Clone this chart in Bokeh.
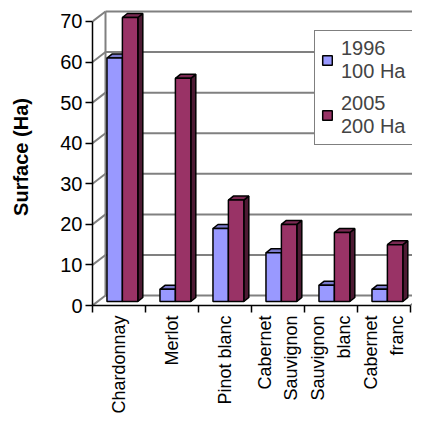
import math
from bokeh.plotting import figure
from bokeh.models import Range1d, FixedTicker, Legend, LegendItem, LinearAxis
from bokeh.embed import file_html
from bokeh.resources import INLINE

categories = ["Chardonnay", "Merlot", "Pinot blanc", "Cabernet\nSauvignon", "Sauvignon\nblanc", "Cabernet\nfranc"]
values_1996 = [60, 3, 18, 12, 4, 3]
values_2005 = [70, 55, 25, 19, 17, 14]
series_labels = ["1996\n100 Ha", "2005\n200 Ha"]
y_ticks = [0, 10, 20, 30, 40, 50, 60, 70]
y_title = "Surface (Ha)"

FONT = "Liberation Sans"
FS = "20px"
FS_CAT = "18px"
PX_X = 53.0          # px per category
PX_Y = 285.0 / 70.0  # px per unit
W, H = 412, 416
ML, MT, MB = 92, 8, 110
fw, fh = W - ML, H - MT - MB

# 3D offsets (data units)
wall_dx, wall_dy = 13 / PX_X, 10 / PX_Y
bar_base = 4 / PX_Y
bar_dx, bar_dy = 5 / PX_X, 4 / PX_Y

p = figure(width=W, height=H, output_backend="svg", toolbar_location=None,
           x_range=Range1d(0, fw / PX_X), y_range=Range1d(0, fh / PX_Y),
           min_border_left=ML, min_border_right=0, min_border_top=MT, min_border_bottom=MB,
           x_axis_type=None, y_axis_type=None)
p.outline_line_color = None
p.background_fill_color = "white"
p.border_fill_color = "white"
p.xgrid.visible = False
p.ygrid.visible = False

n = len(categories)
xmax = fw / PX_X + 1

# back wall grid and diagonals
gy = [v + wall_dy for v in y_ticks]
p.segment(x0=[wall_dx] * len(y_ticks), y0=gy, x1=[xmax] * len(y_ticks), y1=gy,
          line_color="#808080", line_width=2)
p.segment(x0=[0] * len(y_ticks), y0=y_ticks, x1=[wall_dx] * len(y_ticks), y1=gy,
          line_color="#808080", line_width=2)
p.segment(x0=[wall_dx], y0=[wall_dy], x1=[wall_dx], y1=[max(y_ticks) + wall_dy],
          line_color="#808080", line_width=2)
p.segment(x0=[n], y0=[0], x1=[n + wall_dx], y1=[wall_dy], line_color="#808080", line_width=2)


def bar_series(vals, off_l, off_r, front, top_c, side_c):
    lefts = [i + off_l for i in range(n)]
    rights = [i + off_r for i in range(n)]
    bottoms = [bar_base] * n
    tops = [bar_base + v for v in vals]
    side_xs = [[r, r + bar_dx, r + bar_dx, r] for r in rights]
    side_ys = [[b, b + bar_dy, t + bar_dy, t] for b, t in zip(bottoms, tops)]
    top_xs = [[l, l + bar_dx, r + bar_dx, r] for l, r in zip(lefts, rights)]
    top_ys = [[t, t + bar_dy, t + bar_dy, t] for t in tops]
    p.patches(side_xs, side_ys, fill_color=side_c, line_color="black", line_width=1.5)
    p.patches(top_xs, top_ys, fill_color=top_c, line_color="black", line_width=1.5)
    return p.quad(left=lefts, right=rights, bottom=bottoms, top=tops,
                  fill_color=front, line_color="black", line_width=1.5)


r1 = bar_series(values_1996, 0.273, 0.564, "#9999FF", "#7a7acc", "#4d4d80")
r2 = bar_series(values_2005, 0.564, 0.855, "#993366", "#7a2952", "#4d1a33")

yax = LinearAxis(ticker=FixedTicker(ticks=y_ticks), axis_label=y_title)
yax.axis_label_text_font = FONT
yax.axis_label_text_font_size = FS
yax.axis_label_text_font_style = "bold"
yax.axis_label_text_color = "black"
yax.axis_label_standoff = 25
yax.major_label_text_font = FONT
yax.major_label_text_font_size = FS
yax.major_label_text_color = "black"
yax.major_tick_out = 7
yax.major_tick_in = 0
yax.minor_tick_out = 0
yax.minor_tick_in = 0
yax.major_label_standoff = 3
yax.axis_line_color = "black"
yax.axis_line_width = 1.5
yax.major_tick_line_width = 1.5
yax.bounds = (0, max(y_ticks))
p.add_layout(yax, "left")

centers = [i + 0.5 for i in range(n)]
xax = LinearAxis(ticker=FixedTicker(ticks=centers, minor_ticks=list(range(n + 1))))
xax.major_label_overrides = {c: lab for c, lab in zip(centers, categories)}
xax.major_label_orientation = math.pi / 2
xax.major_label_text_font = FONT
xax.major_label_text_font_size = FS_CAT
xax.major_label_text_color = "black"
xax.major_label_text_line_height = 1.3
xax.major_tick_out = 0
xax.major_tick_in = 0
xax.minor_tick_out = 7
xax.minor_tick_in = 0
xax.minor_tick_line_color = "black"
xax.minor_tick_line_width = 1.5
xax.major_label_standoff = 3
xax.axis_line_color = "black"
xax.axis_line_width = 1.5
xax.bounds = (0, n)
p.add_layout(xax, "below")

legend = Legend(items=[LegendItem(label=series_labels[0], renderers=[r1]),
                       LegendItem(label=series_labels[1], renderers=[r2])],
                location=(222, 160))
legend.label_text_font = FONT
legend.label_text_font_size = FS
legend.label_text_line_height = 1.1
legend.glyph_width = 12
legend.glyph_height = 12
legend.padding = 6
legend.spacing = 9
legend.margin = 0
legend.label_standoff = 8
legend.border_line_color = "black"
legend.border_line_width = 1
legend.background_fill_color = "white"
legend.background_fill_alpha = 1.0
p.add_layout(legend)

open("out.html", "w").write(file_html(p, INLINE))
